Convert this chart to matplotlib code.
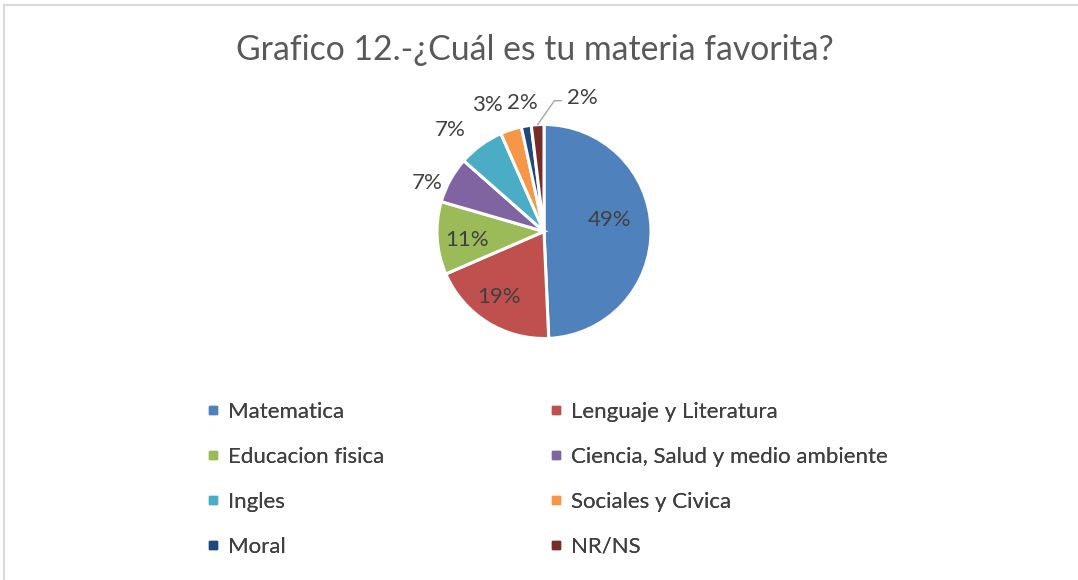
import numpy as np
import matplotlib
matplotlib.use("Agg")
import matplotlib.pyplot as plt
from matplotlib.lines import Line2D

# -----------------------------
# Data
# -----------------------------
materias = ["Matematica", "Lenguaje y Literatura", "Educacion fisica",
            "Ciencia, Salud y medio ambiente", "Ingles", "Sociales y Civica",
            "Moral", "NR/NS"]
porcentajes = [49.3, 19.2, 11.0, 7.0, 6.9, 3.2, 1.5, 1.9]
etiquetas = ["49%", "19%", "11%", "7%", "7%", "3%", "2%", "2%"]
colores = ["#4F81BD", "#C0504D", "#9BBB59", "#8064A2",
           "#4BACC6", "#F79646", "#1F497D", "#772C2A"]

titulo = "Grafico 12.-¿Cuál es tu materia favorita?"

plt.rcParams["font.family"] = ["Lato", "DejaVu Sans"]
TXT = "#404040"

W, H = 1078, 580
fig = plt.figure(figsize=(W / 100, H / 100), dpi=100)

# light frame (top + left only, as in the source)
fig.add_artist(Line2D([4 / W, 1077 / W], [1 - 5 / H, 1 - 5 / H],
                      transform=fig.transFigure, color="#d9d9d9", lw=1.5))
fig.add_artist(Line2D([4 / W, 4 / W], [0, 1 - 5 / H],
                      transform=fig.transFigure, color="#d9d9d9", lw=1.5))

fig.text(535 / W, 1 - 50 / H, titulo, ha="center", va="center",
         fontsize=24.3, color="#595959")

# pie axes
cx, cy, R = 544, 231.5, 107
ax = fig.add_axes([(cx - R) / W, (H - cy - R) / H, 2 * R / W, 2 * R / H])
wedges, _ = ax.pie(porcentajes, colors=colores, startangle=90,
                   counterclock=False, radius=1,
                   wedgeprops=dict(edgecolor="white", linewidth=2.2))
ax.set_xlim(-1, 1)
ax.set_ylim(-1, 1)
ax.set_aspect("equal")
ax.axis("off")

# label placement: distance (x radius) and angular nudge (deg) per slice
dist = [0.62, 0.74, 0.72, 1.18, 1.29, 1.29, 1.22, None]
nudge = [8.7, -2.5, 2.7, 6.0, 6.6, 6.0, 0.0, 0.0]
for i, w in enumerate(wedges):
    mid = (w.theta1 + w.theta2) / 2
    if dist[i] is None:
        ang = np.deg2rad(mid)
        ax.annotate(etiquetas[i], xy=(np.cos(ang), np.sin(ang)),
                    xytext=(0.215, 1.25), ha="left", va="center",
                    fontsize=16, color=TXT,
                    arrowprops=dict(arrowstyle="-", color="#a6a6a6", lw=1,
                                    relpos=(0, 0.35),
                                    connectionstyle="angle,angleA=0,angleB=55,rad=0",
                                    shrinkA=2, shrinkB=0),
                    annotation_clip=False)
    else:
        ang = np.deg2rad(mid + nudge[i])
        ax.text(np.cos(ang) * dist[i], np.sin(ang) * dist[i], etiquetas[i],
                ha="center", va="center", fontsize=16, color=TXT, clip_on=False)

# legend (two columns, filled row by row)
handles = [Line2D([], [], marker="s", linestyle="none", markersize=6,
                  markerfacecolor=c, markeredgecolor=c) for c in colores]
for col, x0 in enumerate([206, 549]):
    idx = range(col, len(materias), 2)
    leg = fig.legend([handles[i] for i in idx], [materias[i] for i in idx],
                     loc="upper left", bbox_to_anchor=(x0 / W, 1 - 402 / H),
                     frameon=False, fontsize=16, labelcolor=TXT,
                     handlelength=0.6, handletextpad=0.4, labelspacing=1.12,
                     borderpad=0, borderaxespad=0)
    fig.add_artist(leg)

fig.savefig("out.png", dpi=100, facecolor="white")
